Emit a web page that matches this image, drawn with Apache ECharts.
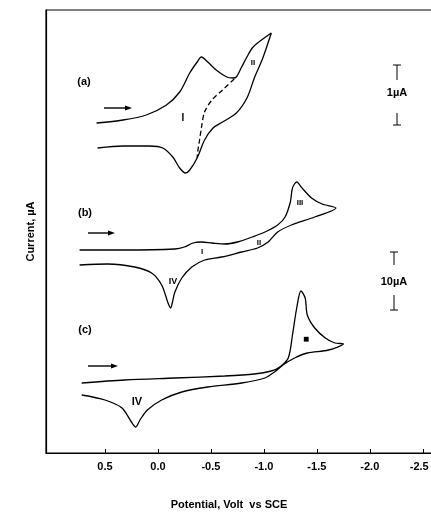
<!DOCTYPE html>
<html>
<head>
<meta charset="utf-8">
<script src="https://cdn.jsdelivr.net/npm/echarts@6/dist/echarts.min.js"></script>
<style>
  html, body { margin: 0; padding: 0; background: #fff; }
  #cv { width: 431px; height: 513px; }
</style>
</head>
<body>
<div id="cv"></div>
<script>
// ticks on the potential axis (V vs SCE)
const potentialTicks = [0.5, 0, -0.5, -1, -1.5, -2, -2.5]

// every curve is [potential, current] with current in plot units (no scale on the y axis)
// (a) forward scan then return scan
const curveA = [
  [0.58, 330], [0.33, 333], [0.11, 338], [-0.08, 348], [-0.205, 361], [-0.30, 380],
  [-0.37, 391], [-0.41, 396], [-0.47, 391], [-0.55, 383], [-0.65, 376], [-0.71, 375],
  [-0.74, 376], [-0.79, 386], [-0.84, 396], [-0.89, 405], [-0.94, 410], [-1.07, 420],
  [-0.99, 395], [-0.91, 375], [-0.84, 355], [-0.74, 340], [-0.61, 331], [-0.52, 325],
  [-0.44, 313], [-0.37, 295], [-0.30, 283], [-0.26, 280], [-0.205, 285], [-0.14, 296],
  [-0.045, 305], [0.08, 307], [0.33, 307], [0.57, 305]
]
// (a) dashed return branch
const curveADashed = [
  [-0.72, 374], [-0.61, 363], [-0.51, 353], [-0.44, 341], [-0.41, 325], [-0.39, 311],
  [-0.375, 301], [-0.37, 295]
]
// (b)
const curveB = [
  [0.74, 203], [0.315, 203], [-0.16, 204], [-0.25, 206], [-0.33, 210], [-0.41, 211],
  [-0.51, 210], [-0.63, 209], [-0.75, 211], [-0.89, 216], [-1.01, 221], [-1.13, 228],
  [-1.20, 236], [-1.25, 251], [-1.27, 265], [-1.31, 271], [-1.36, 265], [-1.45, 255],
  [-1.55, 249], [-1.68, 245],
  [-1.48, 236], [-1.26, 228], [-1.13, 221], [-1.04, 211], [-0.94, 205], [-0.79, 201],
  [-0.60, 196], [-0.44, 193], [-0.32, 186], [-0.225, 175], [-0.16, 161], [-0.135, 150],
  [-0.12, 145], [-0.095, 150], [-0.035, 168], [0.06, 180], [0.22, 186], [0.475, 189],
  [0.74, 188]
]
// (c)
const curveC = [
  [0.72, 70], [0.315, 73], [-0.16, 75], [-0.63, 77], [-0.91, 79], [-1.07, 82],
  [-1.15, 86], [-1.23, 95], [-1.27, 118], [-1.31, 145], [-1.35, 162], [-1.39, 155],
  [-1.41, 138], [-1.48, 125], [-1.58, 115], [-1.67, 110], [-1.75, 109],
  [-1.61, 103], [-1.41, 100], [-1.29, 95], [-1.18, 88], [-1.10, 81], [-1.01, 75],
  [-0.79, 70], [-0.47, 66], [-0.225, 61], [-0.035, 53], [0.10, 43], [0.17, 33],
  [0.21, 26], [0.25, 31], [0.34, 45], [0.50, 53], [0.72, 58]
]

const font = 'Liberation Sans, Arial, sans-serif'

// text labels drawn on top of the plot
function label(text, x, y, size) {
  return {
    type: 'text', x: x, y: y,
    style: { text: text, font: 'bold ' + (size || 11) + 'px ' + font, fill: '#000', align: 'center', verticalAlign: 'middle' }
  }
}
// scan direction arrow
function arrow(x1, x2, y) {
  return {
    type: 'group',
    children: [
      { type: 'line', shape: { x1: x1, y1: y, x2: x2 - 5, y2: y }, style: { stroke: '#000', lineWidth: 1.4 } },
      { type: 'polygon', shape: { points: [[x2 - 7, y - 2.5], [x2, y], [x2 - 7, y + 2.5]] }, style: { fill: '#000' } }
    ]
  }
}
// current scale bar: T on top, text, upside-down T below
function scaleBar(x, yTop, yTopEnd, yBot, yBotEnd, text, textY) {
  let st = { stroke: '#000', lineWidth: 1 }
  return {
    type: 'group',
    children: [
      { type: 'line', shape: { x1: x - 4, y1: yTop, x2: x + 4, y2: yTop }, style: st },
      { type: 'line', shape: { x1: x, y1: yTop, x2: x, y2: yTopEnd }, style: st },
      { type: 'line', shape: { x1: x, y1: yBot, x2: x, y2: yBotEnd }, style: st },
      { type: 'line', shape: { x1: x - 4, y1: yBotEnd, x2: x + 4, y2: yBotEnd }, style: st },
      label(text, x, textY, 11)
    ]
  }
}

function cvSeries(data, dashed) {
  return {
    type: 'line',
    data: data,
    smooth: 0.3,
    showSymbol: false,
    silent: true,
    lineStyle: { color: '#000', width: 1.3, type: dashed ? [5, 3] : 'solid' }
  }
}

let myChart = echarts.init(document.querySelector('#cv'))
let option = {
  backgroundColor: '#fff',
  animation: false,
  grid: {
    left: 46,
    right: -5,
    top: 10,
    bottom: 60,
    outerBoundsMode: 'none',
    containLabel: false,
    show: true,
    borderColor: '#000',
    borderWidth: 1.2
  },
  xAxis: {
    type: 'value',
    inverse: true,
    min: -2.625,
    max: 1.057,
    name: 'Potential, Volt  vs SCE',
    nameLocation: 'middle',
    nameGap: 46,
    nameTextStyle: { fontFamily: font, fontWeight: 'bold', fontSize: 11, color: '#000', padding: [0, 24, 0, 0] },
    axisLine: { show: true, onZero: false, lineStyle: { color: '#000', width: 1.2 } },
    axisTick: { show: true, inside: true, length: 4, customValues: potentialTicks, lineStyle: { color: '#000' } },
    axisLabel: {
      customValues: potentialTicks,
      margin: 8,
      fontFamily: font,
      fontWeight: 'bold',
      fontSize: 11,
      color: '#000',
      // last label sits at the page edge, nudge it left a bit
      formatter: v => {
        let s = (v < 0 ? '-' : '') + Math.abs(v).toFixed(1)
        return v === -2.5 ? '{edge|' + s + '}' : s
      },
      rich: {
        edge: { fontFamily: font, fontWeight: 'bold', fontSize: 11, color: '#000', padding: [0, 7, 0, 0] }
      }
    },
    splitLine: { show: false }
  },
  yAxis: {
    type: 'value',
    min: 0,
    max: 443,
    name: 'Current, \u00b5A',
    nameLocation: 'middle',
    nameGap: 10,
    nameTextStyle: { fontFamily: font, fontWeight: 'bold', fontSize: 11, color: '#000' },
    axisLine: { show: true, onZero: false, lineStyle: { color: '#000', width: 1.2 } },
    axisTick: { show: false },
    axisLabel: { show: false },
    splitLine: { show: false }
  },
  series: [
    cvSeries(curveA),
    cvSeries(curveADashed, true),
    cvSeries(curveB),
    cvSeries(curveC)
  ],
  graphic: [
    label('(a)', 84, 82),
    label('(b)', 85, 213),
    label('(c)', 85, 330),
    arrow(104, 132, 108),
    arrow(88, 115, 233),
    arrow(88, 118, 366),
    label('I', 183, 118, 10),
    label('II', 253, 63, 8),
    label('I', 202, 252, 8),
    label('II', 259, 243, 8),
    label('III', 300, 203, 8),
    label('IV', 173, 282, 9),
    label('\u25a0', 306, 339, 10),
    label('IV', 137, 402, 11),
    scaleBar(397, 65, 80, 113, 125, '1\u00b5A', 93),
    scaleBar(394, 252, 265, 295, 310, '10\u00b5A', 282)
  ]
}
myChart.setOption(option)
</script>
</body>
</html>
